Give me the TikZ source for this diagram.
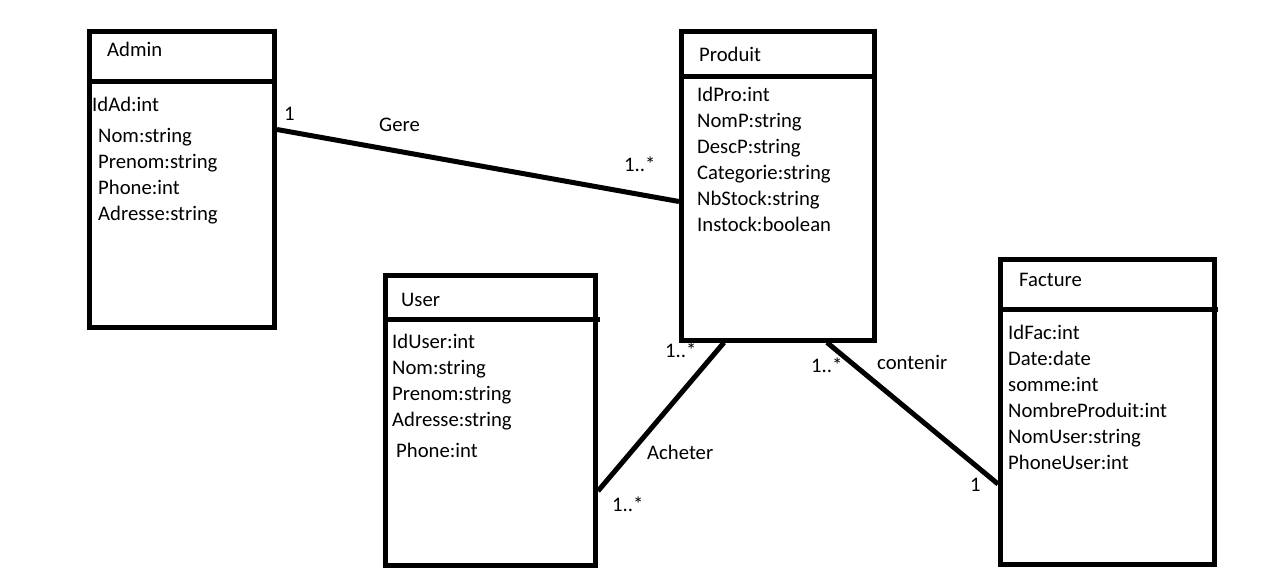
\documentclass[tikz,border=0pt]{standalone}
\usepackage{fontspec}
\setmainfont{Carlito}
\usetikzlibrary{calc}
\begin{document}
\begin{tikzpicture}[x=1pt,y=-1pt,
  umlbox/.style={draw, line width=5pt, inner sep=0pt},
  divider/.style={line width=5pt},
  conn/.style={line width=5pt},
  txt/.style={anchor=base west, inner sep=0pt, font=\fontsize{20.7}{24}\selectfont}]
\useasboundingbox (0,0) rectangle (1266,572);
% boxes
\node[umlbox, minimum width=185.5pt, minimum height=295.5pt] (admin) at (181.75,179.25) {};
\node[umlbox, minimum width=193pt, minimum height=308.5pt] (produit) at (778,185.75) {};
\node[umlbox, minimum width=210pt, minimum height=290pt] (user) at (490.5,420.5) {};
\node[umlbox, minimum width=214pt, minimum height=305pt] (facture) at (1107.5,412) {};
% dividers
\draw[divider] (admin.center |- 0,81.5) ++(-92.75,0) -- ++(185.5,0);
\draw[divider] (produit.center |- 0,76.5) ++(-96.5,0) -- ++(193,0);
\draw[divider] (user.center |- 0,319.5) ++(-105,0) -- ++(214.5,0);
\draw[divider] (facture.center |- 0,309.5) ++(-107,0) -- ++(217.5,0);
% Admin
\node[txt] (adminT) at (107,57) {Admin};
\node[txt] (a1) at (92,112) {IdAd:int};
\node[txt] (a2) at (98,143) {Nom:string};
\node[txt] (a3) at (98,169) {Prenom:string};
\node[txt] (a4) at (98,195) {Phone:int};
\node[txt] (a5) at (98,221) {Adresse:string};
% Produit
\node[txt] (produitT) at (699,62) {Produit};
\node[txt] (p1) at (697,102) {IdPro:int};
\node[txt] (p2) at (697,128) {NomP:string};
\node[txt] (p3) at (697,154) {DescP:string};
\node[txt] (p4) at (697,180) {Categorie:string};
\node[txt] (p5) at (697,206) {NbStock:string};
\node[txt] (p6) at (697,232) {Instock:boolean};
% User
\node[txt] (userT) at (401,306) {User};
\node[txt] (u1) at (392,348) {IdUser:int};
\node[txt] (u2) at (392,374) {Nom:string};
\node[txt] (u3) at (392,400) {Prenom:string};
\node[txt] (u4) at (392,426) {Adresse:string};
\node[txt] (u5) at (396,457) {Phone:int};
% Facture
\node[txt] (factureT) at (1019,286) {Facture};
\node[txt] (f1) at (1008,339) {IdFac:int};
\node[txt] (f2) at (1008,365) {Date:date};
\node[txt] (f3) at (1008,391) {somme:int};
\node[txt] (f4) at (1008,417) {NombreProduit:int};
\node[txt] (f5) at (1008,443) {NomUser:string};
\node[txt] (f6) at (1008,469) {PhoneUser:int};
% connectors
\draw[conn] (admin.east |- 0,129.5) -- (produit.west |- 0,201.5);
\draw[conn] (user.east |- 0,491) -- (produit.south -| 724,0);
\draw[conn] (produit.south -| 827,0) -- (facture.west |- 0,484);
% labels
\node[txt] (l1) at (284,121) {1};
\node[txt] (l2) at (379,132) {Gere};
\node[txt] (l3) at (624,172) {1..*};
\node[txt] (l4) at (665,357) {1..*};
\node[txt] (l5) at (647,459) {Acheter};
\node[txt] (l6) at (612,511) {1..*};
\node[txt] (l7) at (811,372) {1..*};
\node[txt] (l8) at (877,369) {contenir};
\node[txt] (l9) at (970,491) {1};
\end{tikzpicture}
\end{document}
